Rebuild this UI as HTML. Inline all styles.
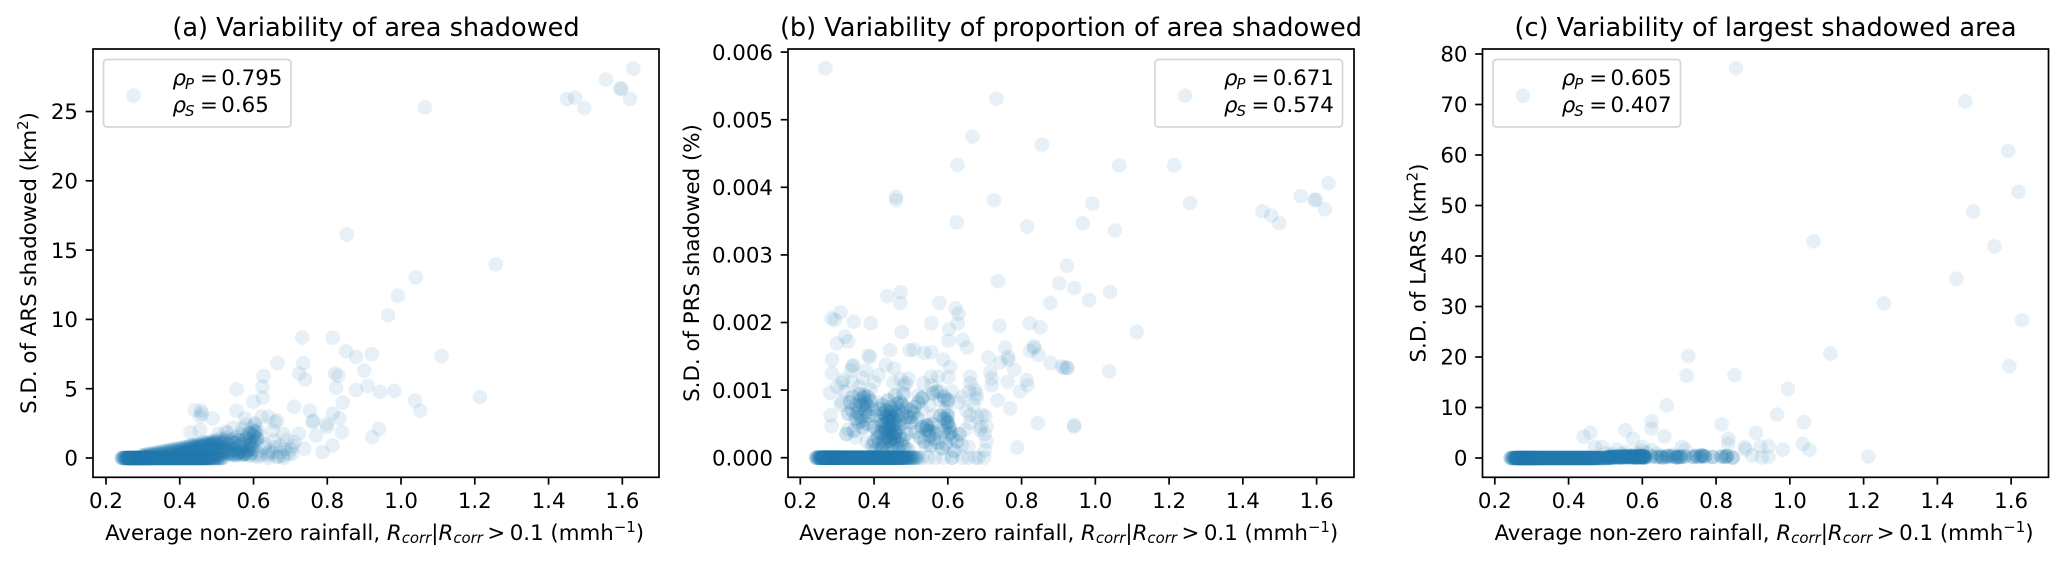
<!DOCTYPE html>
<html lang="en">
<head>
<meta charset="utf-8">
<title>Variability of shadowed area versus rainfall</title>
<style>
html,body{margin:0;padding:0;background:#fff;width:2067px;height:564px;overflow:hidden}
svg{display:block}
text{font-family:"DejaVu Sans","Liberation Sans",sans-serif;fill:#000}
</style>
</head>
<body>
<svg id="figure" xmlns="http://www.w3.org/2000/svg" width="2067" height="564" viewBox="0 0 2067 564"></svg>
<script>
/* ---------- shared tick data ---------- */
const xTickValues = [0.2,0.4,0.6,0.8,1.0,1.2,1.4,1.6];
const xTickLabels = ["0.2","0.4","0.6","0.8","1.0","1.2","1.4","1.6"];

const aTickValues = [0,5,10,15,20,25];
const aTickLabels = ["0","5","10","15","20","25"];
const bTickValues = [0,0.001,0.002,0.003,0.004,0.005,0.006];
const bTickLabels = ["0.000","0.001","0.002","0.003","0.004","0.005","0.006"];
const cTickValues = [0,10,20,30,40,50,60,70,80];
const cTickLabels = ["0","10","20","30","40","50","60","70","80"];

/* ---------- rainfall of the scenes with (near-)zero variability, shared by all panels ---------- */
const zeroRowRain = [
.243,.247,.250,.253,.255,.257,.259,.260,.261,.262,.263,.264,.265,.266,.267,.268,.269,.270,.271,.272,
.273,.274,.275,.276,.277,.278,.279,.280,.281,.282,.283,.284,.285,.286,.287,.288,.289,.290,.291,.292,
.293,.294,.295,.296,.297,.298,.299,.300,.301,.302,.303,.304,.305,.306,.307,.308,.309,.310,.312,.313,
.314,.316,.317,.318,.320,.321,.322,.324,.325,.327,.328,.330,.331,.333,.334,.336,.337,.339,.340,.342,
.343,.345,.346,.348,.349,.351,.352,.354,.355,.357,.358,.360,.361,.363,.364,.366,.367,.369,.370,.372,
.373,.375,.376,.378,.379,.381,.382,.384,.385,.387,.388,.390,.391,.393,.394,.396,.397,.399,.400,.402,
.403,.405,.406,.408,.409,.411,.412,.414,.415,.417,.418,.420,.421,.423,.424,.426,.427,.429,.430,.432,
.433,.435,.436,.438,.439,.441,.442,.444,.445,.447,.448,.450,.451,.453,.454,.456,.457,.459,.460,.462,
.463,.465,.466,.468,.470,.472,.474,.476,.478,.480,.483,.486,.489,.493,.497,.502,.508,.515];

/* ---------- panel (a): S.D. of ARS shadowed ---------- */
const aOuterRain = [1.450,1.472,1.497,1.556,1.594,1.598,1.621,1.630,1.065,.853,1.257,1.040,.991,.965,1.110,.732,.815,.851,.878,.921,.665,.735,.724,.740,.821,.830,.900,.909,.878,.824,.943,.982,1.038,1.052,1.214,.842];
const aOuterSd   = [25.9,26.0,25.25,27.3,26.67,26.62,25.9,28.1,25.3,16.13,13.97,13.03,11.7,10.3,7.35,8.7,8.68,7.7,7.3,7.5,6.85,6.83,6.1,5.67,6.1,5.94,6.3,5.2,4.9,5.07,4.78,4.85,4.15,3.41,4.4,4.0];

const aMidRain = [.627,.624,.554,.625,.600,.554,.710,.753,.815,.833,.441,.458,.460,.455,.489,.577,.622,.640,.658,.604,.762,.798,.664,.760,.800,.840,.940,.922,.429,.455,.529,.564,.600,.605,.652,.681,.711,.723,.737,.770,.787,.814,.664,.682,.640,.611,.690,.700,.672,.655,.630,.705,.640,.618,.590,.580,.570,.545,.525,.505];
const aMidSd   = [5.91,5.14,4.95,4.37,4.06,3.41,3.7,3.41,3.2,2.86,3.46,3.41,3.2,3.0,2.86,2.86,2.98,2.98,2.6,2.5,2.7,2.45,2.7,2.6,2.24,1.87,2.1,1.5,1.87,2.0,1.83,1.75,2.0,1.5,2.0,1.75,1.15,1.75,.67,1.63,.43,.91,.07,0,0,.07,1.3,.6,.9,1.25,.75,.3,.35,.2,.25,2.4,2.1,2.2,1.9,1.75];

const aDenseRain = [
.300,.305,.310,.315,.320,.325,.330,.335,.340,.345,.350,.355,.360,.365,.370,.375,.380,.385,.390,.395,
.400,.405,.410,.415,.420,.425,.430,.435,.440,.445,.450,.455,.460,.465,.470,.475,.480,.485,.490,.495,
.400,.405,.410,.415,.420,.425,.430,.435,.440,.445,.450,.455,.460,.465,.470,.475,.480,.485,.490,.495,
.500,.505,.510,.515,.520,.525,.530,.535,.540,.545,.550,.555,.560,.565,.570,.575,.580,.585,.590,.595,
.500,.510,.520,.530,.540,.550,.560,.570,.580,.590,.600,.605,.610,.600,.595,.590];
const aDenseSd = [
.2,.1,.25,.15,.3,.2,.35,.25,.4,.3,.45,.35,.5,.4,.55,.45,.6,.5,.65,.55,
.7,.6,.75,.65,.8,.7,.85,.75,.9,.8,.95,.85,1.0,.9,1.05,.95,1.1,1.0,1.15,1.05,
.3,.25,.35,.3,.4,.35,.45,.4,.5,.45,.5,.55,.5,.6,.55,.6,.65,.6,.7,.65,
1.2,.8,1.1,.5,1.3,.7,1.0,.4,1.2,.6,1.1,.3,1.3,.5,1.0,.35,1.4,.6,1.2,.7,
.3,.25,.35,.3,.25,.2,.35,.25,.3,1.8,1.6,1.9,1.4,1.2,1.0,.9];

const aClusterRain = [.300,.312,.322,.330,.338,.345,.352,.358,.365,.371,.376,.381,.386,.391,.396,.400,.404,.408,.412,.416,.420,.424,.428,.432,.436,.440,.444,.448,.452,.456,.460,.464,.468,.472,.476,.480,.484,.488,.492,.496,.500,.504,.508,.512,.516,.520,.525,.530,.535,.540,.545,.550,.555,.560,.565,.570,.575,.580,.585,.590,.595,.600,.604,.608,.612,
.345,.360,.375,.388,.398,.410,.418,.426,.434,.442,.450,.458,.466,.474,.482,.490,.498,.506,.514,.522,.530,.538,.546,.554,.562,.570,.578,.586,.594,.602,.610,.430,.445,.462,.478,.494,.510,.526,.542,.558,.574,.590,.606,.620,.632,.645,.660,.672,.684,.695,.705,.640,.650,.668,.680];
const aClusterSd = [.12,.15,.1,.2,.18,.22,.2,.28,.25,.32,.3,.35,.3,.38,.42,.4,.45,.5,.42,.55,.5,.6,.55,.65,.6,.7,.75,.68,.8,.72,.85,.8,.78,.9,.85,.95,.9,1.0,.85,1.1,1.0,.9,1.15,.85,1.05,1.2,.8,1.25,.95,1.35,1.1,.75,1.5,1.2,.9,1.6,1.3,.8,1.75,1.4,2.2,1.7,2.4,1.2,2.0,
.05,.08,.1,.15,.12,.22,.18,.28,.25,.3,.35,.25,.4,.3,.45,.35,.5,.4,.55,.45,.6,.5,.35,.7,.45,.5,.3,.55,.35,.6,.4,.95,1.0,1.15,1.2,1.3,1.4,1.45,.3,.2,.25,.15,.2,1.55,1.0,.5,.8,.4,.65,.3,.85,.2,.35,.1,.15];

/* ---------- panel (b): S.D. of PRS shadowed ---------- */
const bOuterRain = [.268,.732,.667,.855,.626,.725,.459,.460,.624,.815,1.065,1.214,1.257,.992,.966,1.053,1.453,1.477,1.499,1.557,1.594,1.598,1.622,1.632,.923,.902,.943,.983,1.040,1.112,.915,.924,1.037,.943,.736];
const bOuterSd   = [.00576,.00531,.00475,.00463,.00433,.00381,.00386,.00381,.00348,.00342,.004325,.004325,.003767,.00376,.003467,.00336,.003645,.00358,.00347,.00387,.00381,.00382,.003675,.00406,.00284,.00258,.00251,.00233,.00245,.00186,.00133,.00133,.00128,.00048,.00261];

const bMidRain = [.878,.822,.851,.740,.621,.629,.627,.577,.603,.602,.641,.652,.555,.475,.472,.436,.471,.391,.345,.309,.285,.294,.321,.330,.299,.443,.496,.508,.536,.555,.588,.385,.389,.286,.286,.281,.282,.285,.341,.344,.338,.378,.317,.313,.312,.432,.454,.412,.452,.472,.487,.493,.481,.606,.602,.574,.554,.534,.556,.592,.601,.577,.534,.710,.755,.763,.764,.742,.780,.715,.719,.719,.762,.660,.662,.674,.678,.658,.677,.735,.769,.814,.816,.796,.823,.834,.834,.846,.879,.909,.924,.844,.942,.788,.660,.692,.701,.705,.687,.705,.701,.656,.638,.647,.606,.597,.588];
const bMidSd   = [.00229,.00199,.00193,.00195,.00221,.00213,.00199,.00229,.00190,.00173,.00174,.00163,.00199,.00186,.00245,.00239,.00229,.00199,.00201,.00215,.00206,.00204,.00179,.00172,.00169,.00159,.00159,.00160,.00155,.00156,.00145,.00151,.00149,.00145,.00125,.00096,.00063,.00047,.00135,.00137,.00129,.00129,.00115,.00111,.00083,.00137,.00132,.00122,.00111,.00116,.00110,.00117,.00107,.00134,.00119,.00120,.00120,.00110,.00107,.00085,.00083,.00086,.00090,.00148,.00163,.00149,.00145,.00141,.00130,.00127,.00117,.00107,.00112,.00120,.00110,.00100,.00094,.00098,.00088,.00085,.00073,.00115,.00107,.00098,.00158,.00165,.00162,.00152,.00140,.00135,.00133,.00051,.00046,.00015,.00063,.00063,.00062,.00046,.00041,.00024,.00011,.00016,.00019,.00041,.00043,.00056,.00058];

const bZeroEdgeRain = [.522,.530,.547,.565,.588,.611,.640,.683,.698,.612,.655,.675];
const bZeroEdgeSd   = [0,0,0,0,0,0,0,0,0,0,0,0];

const bClusterRain = [.340,.350,.355,.360,.362,.365,.370,.372,.375,.376,.378,.380,.383,.385,.390,.395,.350,.358,.368,.374,.360,.370,.380,.345,.330,.335,.342,.325,
.400,.405,.410,.415,.418,.420,.424,.428,.430,.432,.434,.436,.438,.440,.442,.443,.445,.447,.449,.450,.452,.454,.456,.457,.459,.460,.462,.464,.466,.468,.470,.472,.475,.478,.480,.483,.486,.490,
.395,.400,.405,.410,.414,.418,.422,.426,.430,.434,.438,.441,.444,.447,.450,.454,.458,.462,.466,.470,.474,.478,.482,.487,.492,
.498,.502,.507,.512,.518,.524,.530,.536,.542,.546,.550,.554,.558,.562,.568,.574,.580,.585,.590,.595,.600,.604,.608,.612,.618,.625,.632,.540,.545,.552,.500,.510,.520,.530,.560,.570,.590,.600,.592,.597,.600,.604];
const bClusterSd = [.00070,.00078,.00066,.00073,.00085,.00060,.00078,.00088,.00072,.00082,.00068,.00078,.00090,.00062,.00084,.00072,.00058,.00052,.00055,.00092,.00094,.00045,.00050,.00040,.00065,.00082,.00090,.00035,
.00045,.00062,.00038,.00072,.00055,.00048,.00078,.00065,.00042,.00060,.00070,.00052,.00085,.00058,.00046,.00066,.00075,.00054,.00062,.00040,.00048,.00058,.00068,.00092,.00038,.00050,.00080,.00062,.00072,.00045,.00055,.00082,.00078,.00065,.00095,.00052,.00074,.00060,
.00018,.00024,.00012,.00030,.00021,.00036,.00015,.00028,.00038,.00022,.00031,.00041,.00026,.00034,.00018,.00029,.00036,.00023,.00014,.00032,.00020,.00027,.00016,.00035,.00012,
.00060,.00052,.00066,.00038,.00058,.00030,.00045,.00024,.00048,.00040,.00032,.00018,.00050,.00028,.00036,.00022,.00062,.00014,.00040,.00020,.00052,.00046,.00038,.00030,.00010,.00024,.00035,.00043,.00047,.00039,.00070,.00075,.00082,.00088,.00095,.00098,.00090,.00086,.00058,.00052,.00062,.00035];

const bDenseRain = [.420,.425,.430,.435,.440,.445,.450,.455,.460,.422,.428,.434,.438,.442,.446,.452,.456,.424,.432,.440,.448,.426,.436,.444,.454,.430,.438,.446];
const bDenseSd   = [.00010,.00020,.00030,.00012,.00025,.00035,.00015,.00028,.00020,.00042,.00050,.00040,.00055,.00045,.00060,.00050,.00038,.00065,.00070,.00062,.00072,.00022,.00033,.00018,.00030,.00048,.00058,.00068];

const bScatterRain = [.30,.31,.32,.33,.34,.35,.36,.37,.38,.39,.40,.41,.52,.53,.54,.55,.56,.57,.58,.59,.60,.61,.63,.64,.65,.66,.67,.68,.69,.70];
const bScatterSd   = [.00105,.00078,.00098,.00042,.00112,.00030,.00105,.00118,.00024,.00100,.00112,.00082,.00092,.00072,.00018,.00078,.00062,.00040,.00098,.00070,.00068,.00098,.00082,.00090,.00070,.00052,.00078,.00060,.00045,.00035];

/* ---------- panel (c): S.D. of LARS ---------- */
const cOuterRain = [.854,1.476,1.592,1.620,1.497,1.555,1.064,1.452,1.255,1.630,1.595,1.110,.725,.720,.850,.995,.965,.666,1.038,.815];
const cOuterSd   = [77.2,70.6,60.8,52.7,48.8,41.9,42.9,35.5,30.6,27.3,18.2,20.7,20.2,16.3,16.4,13.7,8.6,10.4,7.1,6.7];

const cMidRain = [.625,.625,.554,.575,.660,.459,.441,.471,.491,.530,.601,.598,.625,.554,.708,.717,.833,.833,.908,1.035,1.053,.981,.942,.920,.877,.880,.898,.924,.942,1.213,.500,.520,.545,.585,.610,.640,.685];
const cMidSd   = [7.3,5.8,5.5,3.8,4.3,5.0,4.2,2.2,2.2,1.65,2.2,1.5,1.5,1.2,2.2,1.65,3.8,2.8,5.0,2.8,1.65,1.65,2.3,2.3,2.2,1.7,.5,.1,.2,.3,.9,.7,.8,1.0,1.1,.8,.7];

const cNearRain = [.505,.512,.518,.524,.530,.535,.540,.544,.548,.552,.556,.560,.564,.568,.572,.575,.578,.581,.584,.587,.590,.592,.594,.596,.598,.600,.602,.604,.606,.608,.505,.515,.525,.535,.545,.555,.565,.575,.585,.595,.605,.510,.520,.530,.540,.550,.560,.570,.580,.590,.600];
const cNearSd   = [.1,.2,.1,.2,.3,.1,.2,.3,.1,.2,.3,.2,.1,.2,.4,.2,.1,.3,.2,.1,.4,.2,.3,.1,.2,.3,.1,.4,.2,.1,.1,.2,.1,.3,.2,.4,.3,.2,.4,.3,.2,.2,.3,.2,.1,.3,.2,.3,.1,.2,.4];

const cTailRain = [.625,.640,.650,.655,.665,.670,.680,.690,.695,.700,.705,.715,.738,.745,.755,.760,.765,.770,.790,.815,.825,.830,.845];
const cTailSd   = [.3,.2,.3,.1,.2,.4,.3,.2,.1,.3,.2,.3,.2,.4,.2,.5,.4,.3,.2,.3,.2,.4,.1];

/* ---------- drawing helpers ---------- */
const NS = "http://www.w3.org/2000/svg";
const fig = document.getElementById("figure");
const zeroRowLayers = [1,2,3];
const AXIS_TOP = 49, AXIS_BOTTOM = 477.3, AXIS_W = 566, X_UNIT = 368.8;
const FONT = "21.33", SMALL = "14.9";

function add(parent, tag, attrs, txt){
  const el = document.createElementNS(NS, tag);
  for (const k in attrs) el.setAttribute(k, attrs[k]);
  if (txt !== undefined) el.textContent = txt;
  parent.appendChild(el);
  return el;
}

function addLabelParts(textEl, parts){
  parts.forEach(function(p){
    const t = document.createElementNS(NS, "tspan");
    if (p.i) t.setAttribute("font-style", "italic");
    if (p.size) t.setAttribute("font-size", p.size);
    if (p.dy) t.setAttribute("dy", p.dy);
    if (p.x !== undefined) t.setAttribute("x", p.x);
    if (p.dx !== undefined) t.setAttribute("dx", p.dx);
    t.textContent = p.t;
    textEl.appendChild(t);
  });
}

function drawPanel(p){
  const g = add(fig, "g", {});
  
  

  const xPos = function(v){ return p.x0 + (v - 0.2) * X_UNIT; };
  const yPos = function(v){ return p.y0 - v * p.yUnit; };

  /* points */
  const marks = add(g, "g", {fill:"#1f77b4","fill-opacity":"0.115"});
  
  
  function plot(xs, ys){
    const n = Math.min(xs.length, ys.length);
    for (let i = 0; i < n; i++){
      const c = add(marks, "circle", {cx:xPos(xs[i]).toFixed(2), cy:yPos(ys[i]).toFixed(2), r:"7.3"});
      
      
    }
  }
  zeroRowLayers.forEach(function(){
    const n = zeroRowRain.length;
    for (let i = 0; i < n; i++){
      const c = add(marks, "circle", {cx:xPos(zeroRowRain[i]).toFixed(2), cy:yPos(0).toFixed(2), r:"7.3"});
      
      
    }
  });
  p.series.forEach(function(s){ plot(s[0], s[1]); });

  /* spines */
  const frame = add(g, "rect", {x:p.left, y:AXIS_TOP, width:AXIS_W, height:AXIS_BOTTOM-AXIS_TOP, fill:"none", stroke:"#000", "stroke-width":"1.7"});
  
  

  /* x ticks */
  xTickValues.forEach(function(v, i){
    const px = xPos(v);
    const tk = add(g, "line", {x1:px, x2:px, y1:AXIS_BOTTOM, y2:AXIS_BOTTOM+7.3, stroke:"#000","stroke-width":"1.7"});
    
    
    const lb = add(g, "text", {x:px, y:508, "font-size":FONT, "text-anchor":"middle"}, xTickLabels[i]);
    
    
  });

  /* y ticks */
  p.yTicks.forEach(function(v, i){
    const py = yPos(v);
    const tk = add(g, "line", {x1:p.left-7.3, x2:p.left, y1:py, y2:py, stroke:"#000","stroke-width":"1.7"});
    
    
    const lb = add(g, "text", {x:p.left-15, y:py+7.7, "font-size":FONT, "text-anchor":"end"}, p.yLabels[i]);
    
    
  });

  /* title */
  const title = add(g, "text", {x:p.left+AXIS_W/2, y:36, "font-size":"25.6", "text-anchor":"middle"}, p.title);
  
  

  /* x label */
  const xl = add(g, "text", {x:p.xLabelX, y:540, "font-size":FONT, "text-anchor":"middle"});
  
  
  addLabelParts(xl, [
    {t:"Average non-zero rainfall, "},
    {t:"R", i:1},
    {t:"corr", i:1, size:SMALL, dy:"3.2"},
    {t:"|", dy:"-3.2"},
    {t:"R", i:1},
    {t:"corr", i:1, size:SMALL, dy:"3.2"},
    {t:">", dy:"-3.2", dx:"4.5"},
    {t:"0.1 (mmh", dx:"4.5"},
    {t:"\u22121", size:SMALL, dy:"-8"},
    {t:")", dy:"8"}
  ]);

  /* y label */
  const yl = add(g, "text", {transform:"translate("+p.yLabelX+" "+p.yLabelY+") rotate(-90)", x:0, y:0, "font-size":FONT, "text-anchor":"middle"});
  
  
  addLabelParts(yl, p.yLabelParts);

  /* legend */
  const lg = add(g, "g", {});
  
  
  add(lg, "rect", {x:p.legendX, y:59.5, width:187.5, height:67.5, rx:3.5, fill:"#fff", "fill-opacity":"0.8", stroke:"#ccc", "stroke-opacity":"0.8", "stroke-width":"1.7"});
  const lm = add(lg, "circle", {cx:p.legendX+30, cy:95.7, r:7.3, fill:"#1f77b4", "fill-opacity":"0.115"});
  
  
  [["P", p.rhoP, 85],["S", p.rhoS, 112]].forEach(function(row){
    const t = add(lg, "text", {x:p.legendTextX, y:row[2], "font-size":FONT});
    
    
    addLabelParts(t, [
      {t:"\u03C1", i:1},
      {t:row[0], i:1, size:SMALL, dy:"4", x:p.legendTextX+12.5},
      {t:"=", dy:"-4", x:p.legendTextX+27.5},
      {t:row[1], x:p.legendTextX+48.8}
    ]);
  });
}

drawPanel({
  name:"area", left:93, x0:106, y0:458, yUnit:13.86,
  yTicks:aTickValues, yLabels:aTickLabels,
  title:"(a) Variability of area shadowed",
  xLabelX:374.6, yLabelX:36, yLabelY:263,
  yLabelParts:[{t:"S.D. of ARS shadowed (km"},{t:"2",size:SMALL,dy:"-8"},{t:")",dy:"8"}],
  legendX:103.5, legendTextX:172.5, rhoP:"0.795", rhoS:"0.65",
  series:[[aDenseRain,aDenseSd],[aDenseRain,aDenseSd],[aClusterRain,aClusterSd],[aMidRain,aMidSd],[aOuterRain,aOuterSd]]
});
drawPanel({
  name:"proportion", left:788, x0:800.3, y0:457.7, yUnit:67600,
  yTicks:bTickValues, yLabels:bTickLabels,
  title:"(b) Variability of proportion of area shadowed",
  xLabelX:1068.7, yLabelX:699, yLabelY:263,
  yLabelParts:[{t:"S.D. of PRS shadowed (%)"}],
  legendX:1155, legendTextX:1224, rhoP:"0.671", rhoS:"0.574",
  series:[[bClusterRain,bClusterSd],[bClusterRain,bClusterSd],[bDenseRain,bDenseSd],[bScatterRain,bScatterSd],[bMidRain,bMidSd],[bZeroEdgeRain,bZeroEdgeSd],[bOuterRain,bOuterSd]]
});
drawPanel({
  name:"largest-area", left:1482.5, x0:1494.8, y0:458, yUnit:5.05,
  yTicks:cTickValues, yLabels:cTickLabels,
  title:"(c) Variability of largest shadowed area",
  xLabelX:1764, yLabelX:1425.5, yLabelY:263,
  yLabelParts:[{t:"S.D. of LARS (km"},{t:"2",size:SMALL,dy:"-8"},{t:")",dy:"8"}],
  legendX:1493, legendTextX:1561.7, rhoP:"0.605", rhoS:"0.407",
  series:[[cNearRain,cNearSd],[cNearRain,cNearSd],[cNearRain,cNearSd],[cTailRain,cTailSd],[cTailRain,cTailSd],[cTailRain,cTailSd],[cMidRain,cMidSd],[cOuterRain,cOuterSd]]
});
</script>
</body>
</html>
